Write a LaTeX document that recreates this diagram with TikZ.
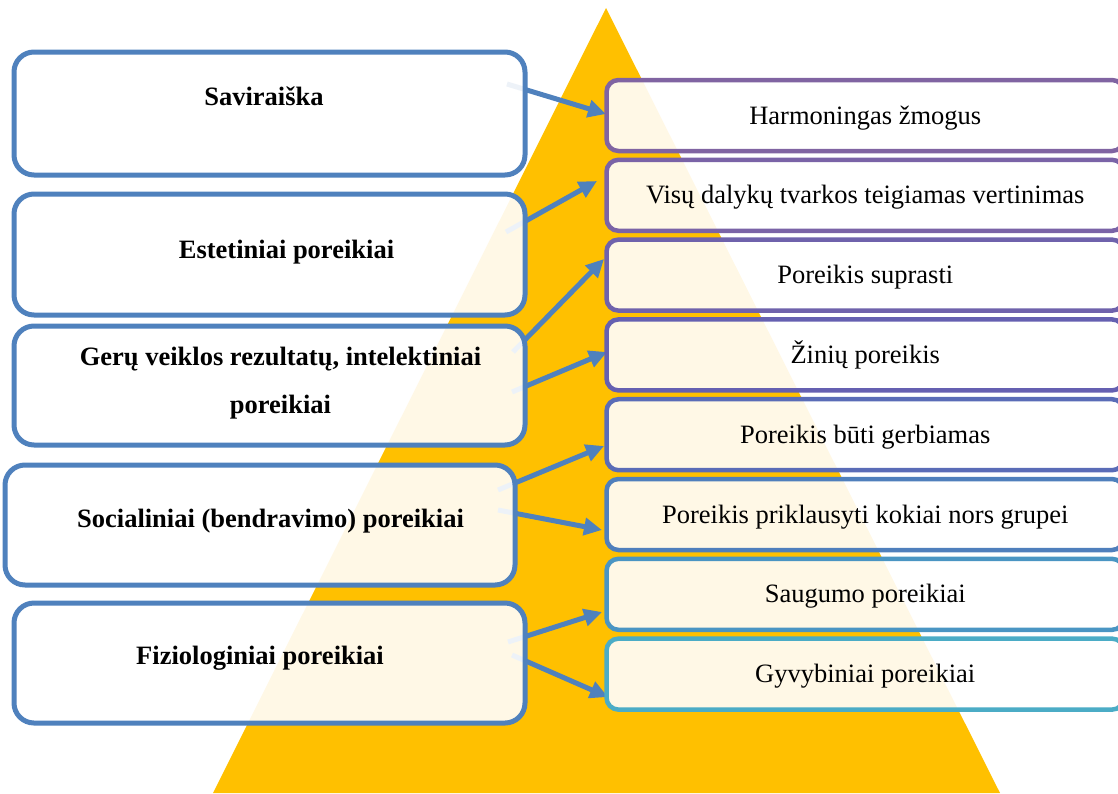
\documentclass[tikz,border=0pt]{standalone}
\usepackage{fontspec}
\setmainfont{Liberation Serif}
\usetikzlibrary{arrows.meta}
\definecolor{gold}{HTML}{FFC000}
\definecolor{lblue}{HTML}{4F81BD}
\definecolor{rcA}{HTML}{8064A2}
\definecolor{rcB}{HTML}{7A63A7}
\definecolor{rcC}{HTML}{6F62AC}
\definecolor{rcD}{HTML}{6560B1}
\definecolor{rcE}{HTML}{5A6CB7}
\definecolor{rcF}{HTML}{4F7FBC}
\definecolor{rcG}{HTML}{4A95C3}
\definecolor{rcH}{HTML}{4BACC6}
\tikzset{
  lbox/.style={draw=lblue, line width=5pt, rounded corners=20pt, fill=white,
    fill opacity=0.9, text opacity=1, minimum width=511pt, inner sep=0pt},
  rbox/.style={line width=4.5pt, rounded corners=12pt, fill=white, fill opacity=0.9,
    text opacity=1, minimum width=517.5pt, minimum height=71pt, inner sep=0pt,
    font=\fontsize{26.5}{32}\selectfont, text height=17pt, text depth=0pt},
  ltxt/.style={font=\fontsize{26.5}{32}\selectfont\bfseries, anchor=base, inner sep=0pt},
  conn/.style={draw=lblue, line width=5pt, -{Triangle[length=18pt,width=17pt]}},
}
\begin{document}
\begin{tikzpicture}[x=1pt,y=-1pt]
\useasboundingbox (0,0) rectangle (1118,793);
\clip (0,0) rectangle (1118,793);
% pyramid
\fill[gold] (606,8) -- (213,793) -- (1000,793) -- cycle;
% connector end points
\coordinate (a1s) at (507,84);  \coordinate (a1e) at (606,114);
\coordinate (a2s) at (506,232); \coordinate (a2e) at (597,181);
\coordinate (a3s) at (513,352); \coordinate (a3e) at (604,259);
\coordinate (a4s) at (512,392); \coordinate (a4e) at (607,352);
\coordinate (a5s) at (498,490); \coordinate (a5e) at (604,446);
\coordinate (a6s) at (498,510); \coordinate (a6e) at (602,530);
\coordinate (a7s) at (508,642); \coordinate (a7e) at (602,612);
\coordinate (a8s) at (512,655); \coordinate (a8e) at (608,697);
\foreach \k in {1,...,8} { \draw[conn] (a\k s) -- (a\k e); }
% left boxes
\node[lbox, minimum height=123pt] (L1) at (269.5,113.5) {};
\node[lbox, minimum height=121pt] (L2) at (269.5,254.5) {};
\node[lbox, minimum height=119pt] (L3) at (269.5,385.5) {};
\node[lbox, minimum width=510pt, minimum height=120pt] (L4) at (260,525) {};
\node[lbox, minimum height=120pt] (L5) at (269.5,663) {};
\node[ltxt] (L1t) at (264,105) {Saviraiška};
\node[ltxt] (L2t) at (286.5,258) {Estetiniai poreikiai};
\node[ltxt] (L3t) at (280.5,365) {Gerų veiklos rezultatų, intelektiniai};
\node[ltxt] (L3u) at (280.5,413) {poreikiai};
\node[ltxt] (L4t) at (270.5,527) {Socialiniai (bendravimo) poreikiai};
\node[ltxt] (L5t) at (260,664) {Fiziologiniai poreikiai};
% right boxes
\node[rbox, draw=rcA] (R1) at (865.25,115.5) {Harmoningas žmogus};
\node[rbox, draw=rcB] (R2) at (865.25,195.3) {Visų dalykų tvarkos teigiamas vertinimas};
\node[rbox, draw=rcC] (R3) at (865.25,275.1) {Poreikis suprasti};
\node[rbox, draw=rcD] (R4) at (865.25,354.9) {Žinių poreikis};
\node[rbox, draw=rcE] (R5) at (865.25,434.7) {Poreikis būti gerbiamas};
\node[rbox, draw=rcF] (R6) at (865.25,514.5) {Poreikis priklausyti kokiai nors grupei};
\node[rbox, draw=rcG] (R7) at (865.25,594.3) {Saugumo poreikiai};
\node[rbox, draw=rcH] (R8) at (865.25,674.1) {Gyvybiniai poreikiai};
\end{tikzpicture}
\end{document}
